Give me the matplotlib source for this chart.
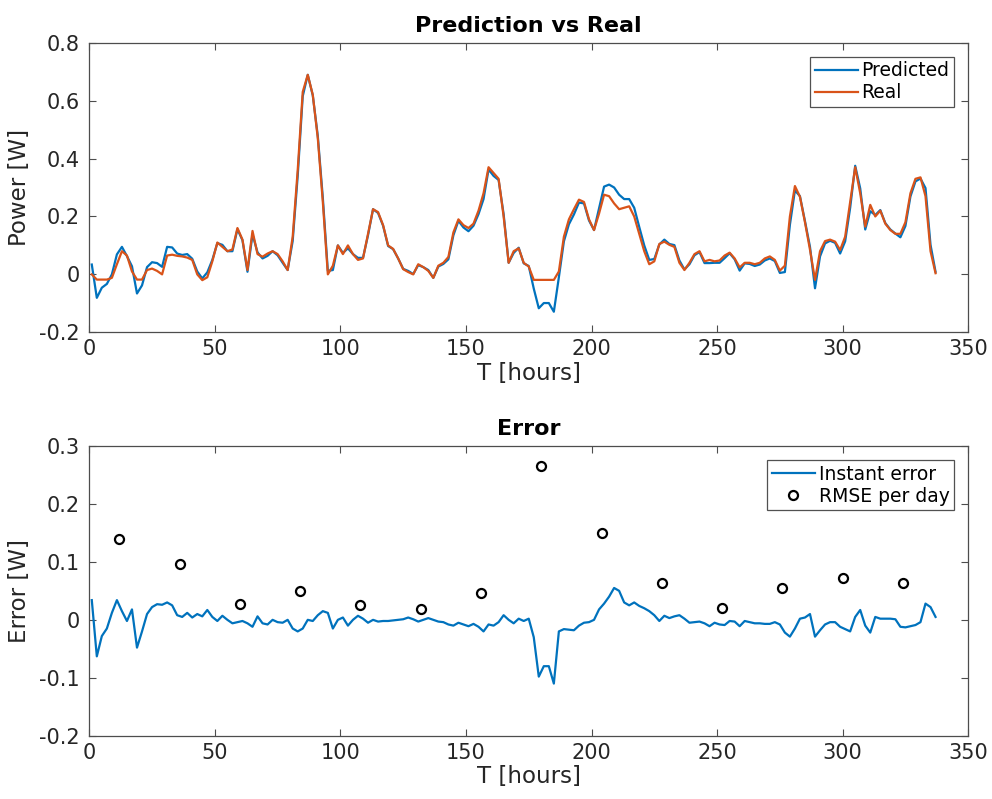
import numpy as np
import matplotlib; matplotlib.use("Agg")
import matplotlib.pyplot as plt
from matplotlib.ticker import FuncFormatter

BLUE   = "#0072BD"
ORANGE = "#D95319"
AXCOL  = "#4d4d4d"
TXTCOL = "#262626"

# hours 1, 3, 5, ..., 337
hours = np.arange(1, 338, 2)

real_power = [
    0.0, -0.018, -0.018, -0.018, -0.012, 0.035, 0.08, 0.065, 0.01, -0.018,
    -0.018, 0.015, 0.02, 0.012, 0.0, 0.065, 0.068, 0.064, 0.062, 0.058,
    0.05, 0.0, -0.02, -0.01, 0.045, 0.11, 0.095, 0.08, 0.086, 0.16,
    0.12, 0.015, 0.15, 0.07, 0.061, 0.072, 0.08, 0.07, 0.045, 0.015,
    0.13, 0.36, 0.63, 0.689, 0.62, 0.47, 0.25, 0.0, 0.03, 0.1,
    0.07, 0.1, 0.07, 0.05, 0.055, 0.14, 0.225, 0.215, 0.17, 0.1,
    0.088, 0.055, 0.018, 0.008, 0.0, 0.035, 0.025, 0.012, -0.012, 0.03,
    0.04, 0.06, 0.145, 0.19, 0.17, 0.16, 0.175, 0.22, 0.28, 0.37,
    0.35, 0.33, 0.2, 0.04, 0.08, 0.09, 0.04, 0.027, -0.019, -0.019,
    -0.019, -0.019, -0.019, 0.01, 0.13, 0.19, 0.225, 0.258, 0.25, 0.19,
    0.153, 0.21, 0.275, 0.27, 0.245, 0.225, 0.23, 0.235, 0.2, 0.14,
    0.08, 0.035, 0.045, 0.105, 0.113, 0.102, 0.095, 0.04, 0.015, 0.04,
    0.07, 0.08, 0.045, 0.05, 0.045, 0.048, 0.065, 0.075, 0.055, 0.024,
    0.04, 0.04, 0.035, 0.04, 0.055, 0.062, 0.05, 0.013, 0.03, 0.2,
    0.305, 0.268, 0.18, 0.085, -0.019, 0.08, 0.115, 0.12, 0.113, 0.084,
    0.13, 0.25, 0.37, 0.28, 0.165, 0.24, 0.2, 0.22, 0.175, 0.153,
    0.14, 0.14, 0.18, 0.28, 0.33, 0.335, 0.27, 0.08, 0.004,
]

instant_error = [
    0.034, -0.063, -0.028, -0.015, 0.012, 0.034, 0.015, -0.002, 0.018, -0.048,
    -0.02, 0.01, 0.022, 0.027, 0.026, 0.03, 0.025, 0.008, 0.005, 0.012,
    0.004, 0.01, 0.006, 0.017, 0.005, -0.002, 0.007, 0.0, -0.006, -0.004,
    -0.002, -0.006, -0.012, 0.006, -0.006, -0.008, 0.0, -0.004, -0.005, 0.0,
    -0.015, -0.02, -0.015, 0.0, -0.002, 0.008, 0.015, 0.012, -0.015, 0.0,
    0.004, -0.01, 0.0, 0.007, 0.002, -0.005, 0.0, -0.003, -0.002, -0.002,
    -0.001, 0.0, 0.001, 0.004, 0.001, -0.003, 0.0, 0.003, 0.0, -0.003,
    -0.004, -0.008, -0.01, -0.005, -0.008, -0.011, -0.007, -0.012, -0.02, -0.008,
    -0.01, -0.004, 0.008, 0.0, -0.006, 0.002, -0.002, 0.002, -0.03, -0.098,
    -0.08, -0.08, -0.11, -0.02, -0.016, -0.017, -0.018, -0.01, -0.005, -0.004,
    0.0, 0.018, 0.028, 0.04, 0.055, 0.05, 0.03, 0.025, 0.03, 0.024,
    0.02, 0.015, 0.008, -0.002, 0.007, 0.003, 0.006, 0.008, 0.002, -0.005,
    -0.004, -0.003, -0.006, -0.011, -0.005, -0.008, -0.009, -0.002, -0.003, -0.011,
    -0.002, -0.004, -0.006, -0.006, -0.007, -0.007, -0.004, -0.008, -0.022, -0.029,
    -0.015, 0.002, 0.004, 0.01, -0.029, -0.018, -0.008, -0.004, -0.004, -0.012,
    -0.016, -0.02, 0.005, 0.017, -0.01, -0.022, 0.005, 0.002, 0.002, 0.002,
    0.001, -0.012, -0.013, -0.011, -0.009, -0.004, 0.028, 0.022, 0.005,
]

rmse_hours = [12, 36, 60, 84, 108, 132, 156, 180, 204, 228, 252, 276, 300, 324]
rmse_day   = [0.139, 0.096, 0.027, 0.05, 0.025, 0.019, 0.046,
              0.266, 0.149, 0.063, 0.021, 0.055, 0.073, 0.063]

x_ticks      = [0, 50, 100, 150, 200, 250, 300, 350]
power_ticks  = [-0.2, 0, 0.2, 0.4, 0.6, 0.8]
error_ticks  = [-0.2, -0.1, 0, 0.1, 0.2, 0.3]

predicted_power = np.array(real_power) + np.array(instant_error)

plt.rcParams["font.family"] = ["DejaVu Sans"]
plt.rcParams["axes.unicode_minus"] = False


def style_axes(ax, yticks, ylim):
    ax.set_xlim(0, 350)
    ax.set_ylim(*ylim)
    ax.set_xticks(x_ticks)
    ax.set_yticks(yticks)
    fmt = FuncFormatter(lambda v, _: f"{v:g}")
    ax.xaxis.set_major_formatter(fmt)
    ax.yaxis.set_major_formatter(fmt)
    ax.tick_params(direction="in", length=5, width=0.8, color=AXCOL,
                   labelsize=15, labelcolor=TXTCOL, top=True, right=True)
    ax.tick_params(axis="x", pad=5)
    ax.tick_params(axis="y", pad=7)
    for sp in ax.spines.values():
        sp.set_color(AXCOL)
        sp.set_linewidth(0.9)


def add_legend(ax):
    leg = ax.legend(loc="upper right", fontsize=13.5, frameon=True, fancybox=False,
                    handlelength=2.3, handletextpad=0.2, borderpad=0.25,
                    labelspacing=0.15, borderaxespad=0.75)
    leg.get_frame().set_edgecolor(TXTCOL)
    leg.get_frame().set_linewidth(0.9)
    return leg


fig = plt.figure(figsize=(9.92, 7.99), dpi=100)

ax1 = fig.add_axes([0.090, 0.5841, 0.886, 0.3625])
ax1.plot(hours, predicted_power, color=BLUE, lw=1.6, label="Predicted")
ax1.plot(hours, real_power, color=ORANGE, lw=1.6, label="Real")
style_axes(ax1, power_ticks, (-0.2, 0.8))
ax1.set_title("Prediction vs Real", fontsize=16, fontweight="bold", color="black", pad=8)
ax1.set_xlabel("T [hours]", fontsize=16.5, color=TXTCOL, labelpad=2)
ax1.set_ylabel("Power [W]", fontsize=16.5, color=TXTCOL, labelpad=6)
add_legend(ax1)

ax2 = fig.add_axes([0.090, 0.0792, 0.886, 0.3626])
ax2.plot(hours, instant_error, color=BLUE, lw=1.6, label="Instant error")
ax2.plot(rmse_hours, rmse_day, linestyle="none", marker="o", markersize=6.5,
         markerfacecolor="none", markeredgecolor="black", markeredgewidth=1.6,
         label="RMSE per day")
style_axes(ax2, error_ticks, (-0.2, 0.3))
ax2.set_title("Error", fontsize=16, fontweight="bold", color="black", pad=8)
ax2.set_xlabel("T [hours]", fontsize=16.5, color=TXTCOL, labelpad=2)
ax2.set_ylabel("Error [W]", fontsize=16.5, color=TXTCOL, labelpad=6)
add_legend(ax2)

fig.savefig("out.png", dpi=100)
plt.close(fig)
